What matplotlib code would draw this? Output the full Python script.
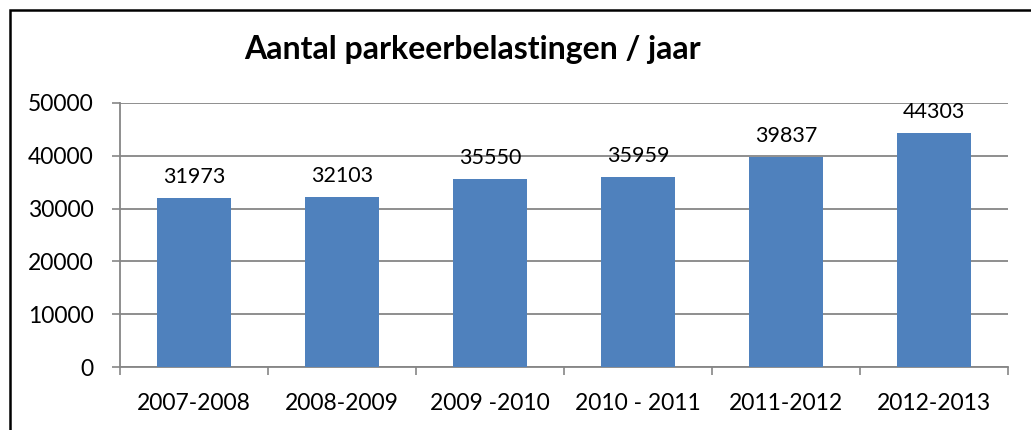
import numpy as np
import matplotlib.pyplot as plt
from matplotlib.patches import Rectangle


# --------------------------------------------------
# Data
# --------------------------------------------------

seasons = ["2007-2008", "2008-2009", "2009 -2010", "2010 - 2011", "2011-2012", "2012-2013"]
counts = [31973, 32103, 35550, 35959, 39837, 44303]
y_ticks = [0, 10000, 20000, 30000, 40000, 50000]

bar_color = "#4F81BD"
grid_color = "#868686"

plt.rcParams["font.family"] = ["Lato", "DejaVu Sans"]


# --------------------------------------------------
# Figure
# --------------------------------------------------

figure = plt.figure(figsize=(10.31, 4.30), dpi=100)
axis = figure.add_axes([120 / 1031, 1 - 367 / 430, 888 / 1031, 264 / 430])

positions = np.arange(len(seasons))
bars = axis.bar(positions, counts, width=0.5, color=bar_color, zorder=3)

for bar, value in zip(bars, counts):
    axis.annotate(
        str(value),
        (bar.get_x() + bar.get_width() / 2, bar.get_height()),
        xytext=(0, 8),
        textcoords="offset points",
        ha="center",
        va="bottom",
        fontsize=15.5,
        zorder=4
    )

axis.set_xlim(-0.5, len(seasons) - 0.5)
axis.set_ylim(0, 50000)
axis.set_yticks(y_ticks)
axis.set_yticklabels([str(t) for t in y_ticks])
axis.set_xticks(positions)
axis.set_xticklabels(seasons)
axis.set_xticks(np.arange(len(seasons) + 1) - 0.5, minor=True)

axis.tick_params(axis="x", which="major", length=0, pad=19, labelsize=16.5)
axis.tick_params(axis="x", which="minor", length=6, width=1.2, color=grid_color)
axis.tick_params(axis="y", length=6, width=1.2, color=grid_color, pad=13, labelsize=16.5)

axis.grid(axis="y", color=grid_color, linewidth=1.3, zorder=1)
for side in ["top", "right"]:
    axis.spines[side].set_visible(False)
for side in ["left", "bottom"]:
    axis.spines[side].set_color(grid_color)
    axis.spines[side].set_linewidth(1.3)

figure.text(
    472 / 1031,
    1 - 50 / 430,
    "Aantal parkeerbelastingen / jaar",
    ha="center",
    va="center",
    fontsize=23,
    fontweight="bold"
)

figure.patches.append(
    Rectangle(
        (10 / 1031, -0.1),
        1.2,
        1 - 10 / 430 + 0.1,
        transform=figure.transFigure,
        fill=False,
        edgecolor="black",
        linewidth=1.8
    )
)

plt.savefig("out.png", dpi=100)
